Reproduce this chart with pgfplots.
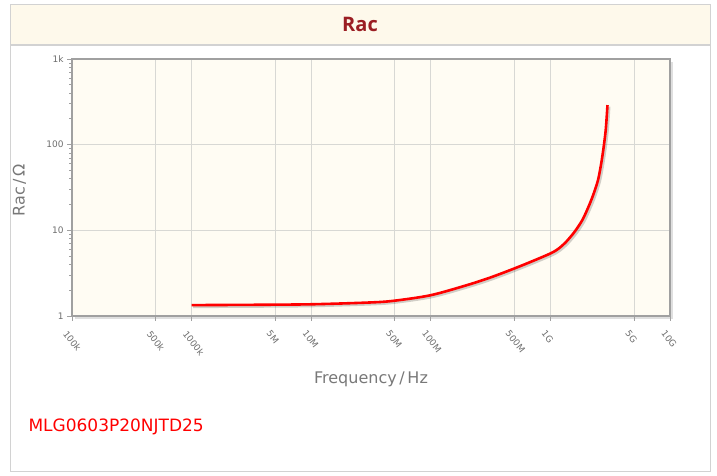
\documentclass[border=0pt]{standalone}
\usepackage{pgfplots}
\usepackage{pgfplotstable}
\pgfplotsset{compat=1.18}
\usepackage{fontspec}
\setmainfont{DejaVu Sans}
\newfontfamily\titlefont{Open Sans}
\definecolor{bandcream}{RGB}{254,249,235}
\definecolor{plotcream}{RGB}{255,252,243}
\definecolor{titlered}{RGB}{155,30,35}
\definecolor{gridgray}{RGB}{216,216,212}
\definecolor{framegray}{RGB}{160,160,160}
\definecolor{labelgray}{RGB}{120,120,120}
\definecolor{tickgray}{RGB}{110,110,110}
\pgfplotstableread{
f R
1e6 1.34
3e6 1.35
1e7 1.37
3.16e7 1.44
5e7 1.51
1e8 1.75
2e8 2.29
3.16e8 2.82
5e8 3.59
7.08e8 4.37
1e9 5.37
1.167e9 6.1
1.36e9 7.4
1.6e9 9.7
1.85e9 13.2
2.07e9 18.5
2.27e9 25.5
2.5e9 38.6
2.66e9 60.5
2.79e9 94.5
2.9e9 148
2.97e9 232
3.0e9 290
}\rac
\begin{document}
\begin{tikzpicture}[x=1pt,y=1pt]
\path (0,0) rectangle (717,476);
% outer frame
\draw[gray!35,line width=1.2pt] (10.5,4.5) rectangle (710.5,471.5);
\fill[bandcream] (11,431) rectangle (710,471);
\draw[gray!35,line width=1.2pt] (10.5,431) -- (710.5,431);
\node[font=\titlefont\bfseries\fontsize{20}{24}\selectfont,text=titlered] at (360,452) {Rac};
% plot background and shadow
\fill[gray!25] (75,157) rectangle (673,414);
\fill[plotcream] (72,160) rectangle (670,417);
\begin{axis}[
  at={(72pt,160pt)}, anchor=south west,
  scale only axis, width=598pt, height=257pt,
  xmode=log, ymode=log,
  xmin=1e5, xmax=1e10, ymin=1, ymax=1000,
  xtick={1e5,5e5,1e6,5e6,1e7,5e7,1e8,5e8,1e9,5e9,1e10},
  xticklabels={100k,500k,1000k,5M,10M,50M,100M,500M,1G,5G,10G},
  ytick={1,10,100,1000},
  yticklabels={1,10,100,1k},
  minor xtick={}, minor ytick={},
  xtick pos=bottom, ytick pos=left,
  grid=major,
  major grid style={gridgray, line width=0.8pt},
  axis line style={framegray, line width=1.8pt},
  tick align=outside,
  major tick length=5pt,
  tick style={framegray, line width=0.8pt},
  xticklabel style={rotate=-52, anchor=north west, font=\fontsize{9}{10}\selectfont, text=tickgray, xshift=1pt, yshift=-5pt},
  yticklabel style={font=\fontsize{9}{10}\selectfont, text=tickgray},
  xlabel={Frequency\,/\,Hz},
  ylabel={Rac\,/\,Ω},
  xlabel style={font=\fontsize{16}{19}\selectfont, text=labelgray, at={(axis description cs:0.5,-0.245)}, anchor=center},
  ylabel style={font=\fontsize{16}{19}\selectfont, text=labelgray, at={(axis description cs:-0.088,0.49)}, anchor=center},
]
\addplot[black, opacity=0.18, line width=3pt, smooth, tension=0.5, xshift=1.5pt, yshift=-1.5pt] table[x=f,y=R] {\rac};
\addplot[red, line width=2.6pt, smooth, tension=0.5] table[x=f,y=R] {\rac};
\end{axis}
\node[anchor=west, font=\fontsize{17}{20}\selectfont, text=red] at (25,49) {MLG0603P20NJTD25};
\end{tikzpicture}
\end{document}
